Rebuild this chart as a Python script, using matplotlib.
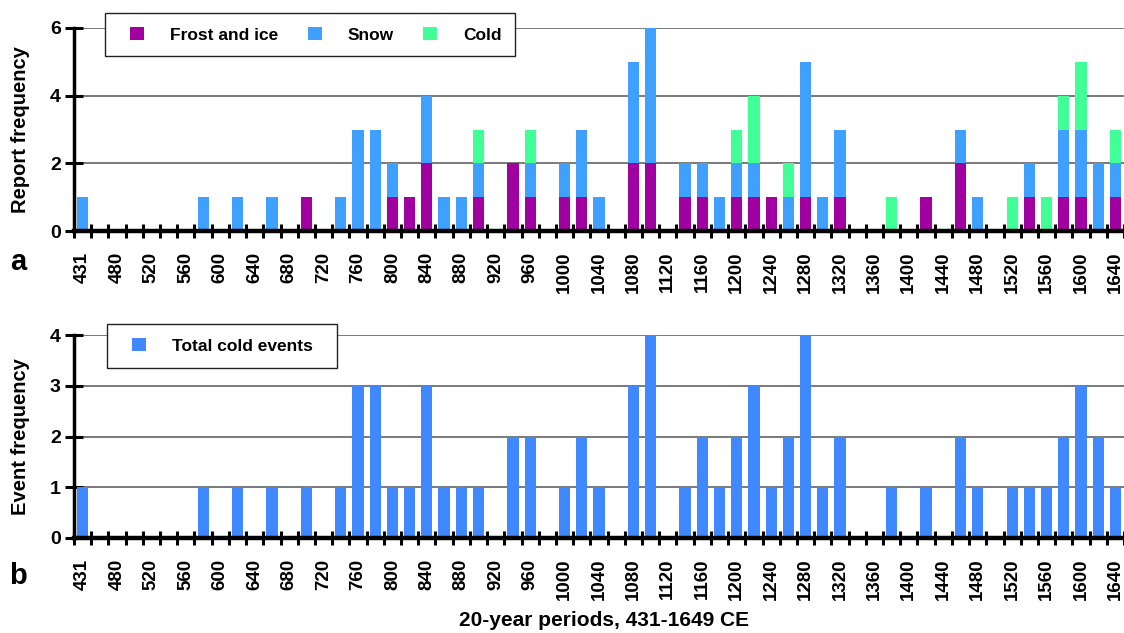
import matplotlib.pyplot as plt
import numpy as np
from matplotlib.patches import Rectangle

plt.rcParams['font.family'] = ['Liberation Sans', 'DejaVu Sans']
plt.rcParams['font.weight'] = 'bold'
plt.rcParams['axes.labelweight'] = 'bold'

# 20-year periods (first period starts 431)
periods = [431] + list(range(460, 1641, 20))

frost = [0, 0, 0, 0, 0, 0, 0, 0, 0, 0,
         0, 0, 0, 1, 0, 0, 0, 0, 1, 1,
         2, 0, 0, 1, 0, 2, 1, 0, 1, 1,
         0, 0, 2, 2, 0, 1, 1, 0, 1, 1,
         1, 0, 1, 0, 1, 0, 0, 0, 0, 1,
         0, 2, 0, 0, 0, 1, 0, 1, 1, 0, 1]
snow = [1, 0, 0, 0, 0, 0, 0, 1, 0, 1,
        0, 1, 0, 0, 0, 1, 3, 3, 1, 0,
        2, 1, 1, 1, 0, 0, 1, 0, 1, 2,
        1, 0, 3, 4, 0, 1, 1, 1, 1, 1,
        0, 1, 4, 1, 2, 0, 0, 0, 0, 0,
        0, 1, 1, 0, 0, 1, 0, 2, 2, 2, 1]
cold = [0, 0, 0, 0, 0, 0, 0, 0, 0, 0,
        0, 0, 0, 0, 0, 0, 0, 0, 0, 0,
        0, 0, 0, 1, 0, 0, 1, 0, 0, 0,
        0, 0, 0, 0, 0, 0, 0, 0, 1, 2,
        0, 1, 0, 0, 0, 0, 0, 1, 0, 0,
        0, 0, 0, 0, 1, 0, 1, 1, 2, 0, 1]
total = [1, 0, 0, 0, 0, 0, 0, 1, 0, 1,
         0, 1, 0, 1, 0, 1, 3, 3, 1, 1,
         3, 1, 1, 1, 0, 2, 2, 0, 1, 2,
         1, 0, 3, 4, 0, 1, 2, 1, 2, 3,
         1, 2, 4, 1, 2, 0, 0, 1, 0, 1,
         0, 2, 1, 0, 1, 1, 1, 2, 3, 2, 1]

c_frost = '#A000A0'
c_snow = '#40A0FF'
c_cold = '#40FF96'
c_total = '#4088FF'

W, H = 1124, 633
fig = plt.figure(figsize=(W / 100, H / 100), dpi=100)
ax1 = fig.add_axes([74 / W, 1 - 231 / H, 1050 / W, 203 / H])
ax2 = fig.add_axes([74 / W, 1 - 538 / H, 1050 / W, 203 / H])

x = np.arange(len(periods))
frost_a = np.array(frost)
snow_a = np.array(snow)
bw = 0.65

b1 = ax1.bar(x, frost, bw, color=c_frost, label='Frost and ice', zorder=3)
b2 = ax1.bar(x, snow, bw, bottom=frost_a, color=c_snow, label='Snow', zorder=3)
b3 = ax1.bar(x, cold, bw, bottom=frost_a + snow_a, color=c_cold, label='Cold', zorder=3)
b4 = ax2.bar(x, total, bw, color=c_total, label='Total cold events', zorder=3)

ax1.set_ylim(0, 6)
ax1.set_yticks([0, 2, 4, 6])
ax2.set_ylim(0, 4)
ax2.set_yticks([0, 1, 2, 3, 4])

for ax in (ax1, ax2):
    ax.set_xlim(-0.5, 60.3)
    ax.yaxis.grid(True, color='#555555', linewidth=1.1)
    ax.set_axisbelow(True)
    ax.spines['top'].set_visible(False)
    ax.spines['right'].set_visible(False)
    ax.spines['left'].set_linewidth(2.5)
    ax.spines['bottom'].set_linewidth(3.2)
    ax.spines['bottom'].set_zorder(4)
    ax.set_xticks(np.arange(-0.5, 61, 1))
    ax.set_xticklabels([])
    ax.set_xticks(x[::2], minor=True)
    ax.set_xticklabels([str(p) for p in periods[::2]], minor=True)
    ax.tick_params(axis='x', which='major', direction='inout', length=10, width=2.2)
    ax.tick_params(axis='x', which='minor', length=0, pad=15, labelsize=13.5,
                   labelrotation=90)
    ax.tick_params(axis='y', direction='inout', length=13, width=2.2,
                   labelsize=14, pad=3)
    ax.yaxis.set_label_coords(-0.042, 0.5)

ax1.set_ylabel('Report frequency', fontsize=14.5, fontweight='bold')
ax2.set_ylabel('Event frequency', fontsize=14.5, fontweight='bold')

# legend boxes
fig.add_artist(Rectangle((105 / W, 1 - 56 / H), 410 / W, 43 / H, transform=fig.transFigure,
                         facecolor='white', edgecolor='#222222', linewidth=1))
fig.add_artist(Rectangle((107 / W, 1 - 368 / H), 230 / W, 44 / H, transform=fig.transFigure,
                         facecolor='white', edgecolor='#222222', linewidth=1))
leg_kw = dict(frameon=False, loc='center left', borderpad=0, borderaxespad=0,
              handlelength=0.8, handleheight=0.8, handletextpad=1.5,
              columnspacing=1.7, fontsize=12.5, bbox_transform=fig.transFigure)
fig.legend(handles=[b1, b2, b3], ncol=3, bbox_to_anchor=(130 / W, 1 - 35 / H), **leg_kw)
fig.legend(handles=[b4], ncol=1, bbox_to_anchor=(132 / W, 1 - 346 / H), **leg_kw)

fig.text(18 / W, 1 - 262 / H, 'a', fontsize=21, ha='center', va='center')
fig.text(18 / W, 1 - 576 / H, 'b', fontsize=21, ha='center', va='center')
fig.text(604 / W, 1 - 620 / H, '20-year periods, 431-1649 CE', fontsize=15,
         ha='center', va='center')

fig.savefig('out.png', dpi=100)
